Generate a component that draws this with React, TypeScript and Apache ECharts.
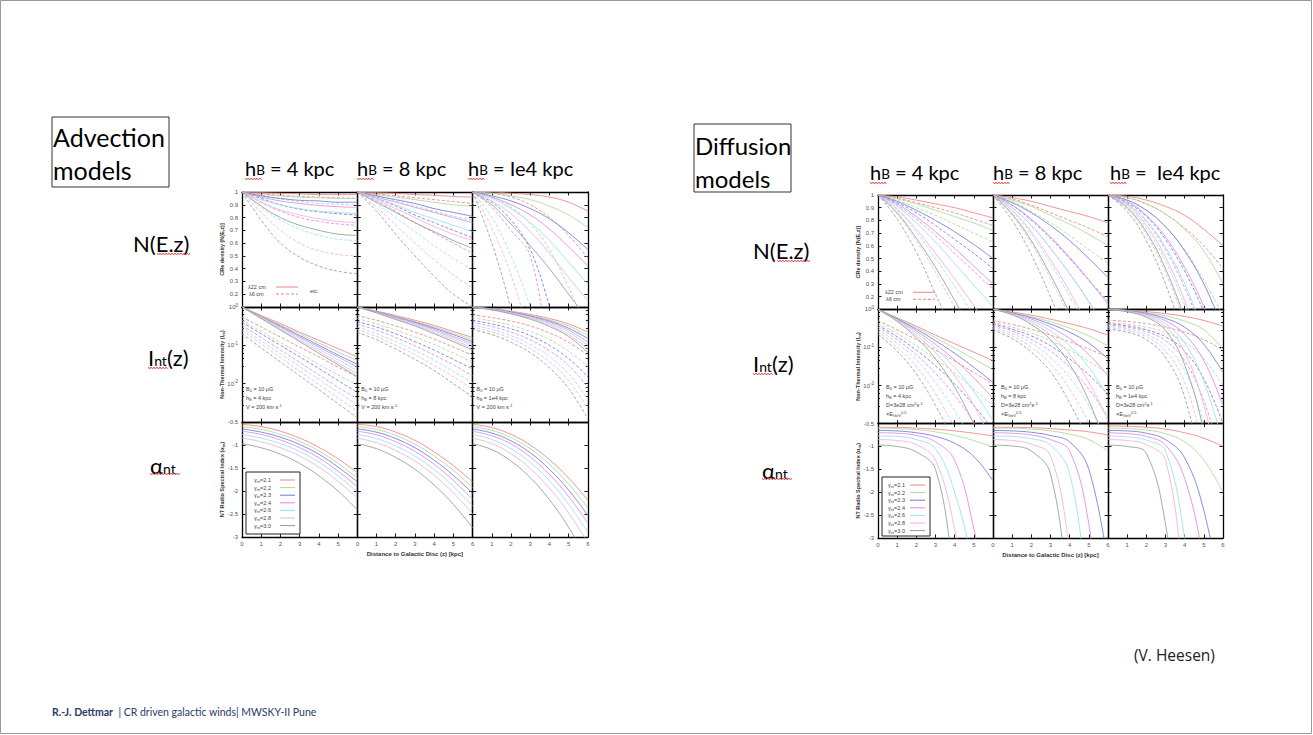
import React, { useEffect, useRef } from 'react';
import * as echarts from 'echarts';

// ---------- data ----------
const Z = [0, 1, 2, 3, 4, 5, 6];
const GAMMAS = ['2.1', '2.2', '2.3', '2.4', '2.6', '2.8', '3.0'];
const X_TICKS = [0, 1, 2, 3, 4, 5, 6];
const COL_HEADERS = ['4', '8', '1e4'];

// Advection, N(E,z)
const advN4Solid = [
  [1, 0.995, 0.99, 0.985, 0.98, 0.98, 0.98],
  [1, 0.98, 0.97, 0.96, 0.955, 0.95, 0.95],
  [1, 0.97, 0.95, 0.935, 0.93, 0.92, 0.92],
  [1, 0.96, 0.93, 0.91, 0.895, 0.885, 0.88],
  [1, 0.94, 0.9, 0.87, 0.85, 0.84, 0.83],
  [1, 0.92, 0.86, 0.82, 0.79, 0.77, 0.76],
  [1, 0.89, 0.8, 0.74, 0.7, 0.67, 0.66],
];
const advN4Dashed = [
  [1, 0.985, 0.975, 0.965, 0.96, 0.955, 0.95],
  [1, 0.97, 0.945, 0.925, 0.91, 0.905, 0.9],
  [1, 0.95, 0.9, 0.865, 0.845, 0.83, 0.82],
  [1, 0.92, 0.85, 0.8, 0.77, 0.75, 0.74],
  [1, 0.88, 0.78, 0.71, 0.66, 0.63, 0.62],
  [1, 0.84, 0.7, 0.6, 0.54, 0.51, 0.5],
  [1, 0.78, 0.6, 0.49, 0.42, 0.38, 0.36],
];
const advN8Solid = [
  [1, 0.995, 0.99, 0.98, 0.975, 0.965, 0.96],
  [1, 0.98, 0.96, 0.94, 0.92, 0.9, 0.89],
  [1, 0.97, 0.94, 0.91, 0.87, 0.84, 0.81],
  [1, 0.96, 0.92, 0.88, 0.84, 0.8, 0.76],
  [1, 0.95, 0.9, 0.84, 0.79, 0.74, 0.69],
  [1, 0.94, 0.87, 0.8, 0.73, 0.67, 0.62],
  [1, 0.92, 0.84, 0.76, 0.69, 0.62, 0.56],
];
const advN8Dashed = [
  [1, 0.985, 0.97, 0.955, 0.94, 0.925, 0.91],
  [1, 0.97, 0.93, 0.89, 0.85, 0.81, 0.78],
  [1, 0.95, 0.89, 0.82, 0.76, 0.7, 0.64],
  [1, 0.93, 0.85, 0.76, 0.68, 0.6, 0.52],
  [1, 0.91, 0.8, 0.69, 0.58, 0.48, 0.39],
  [1, 0.88, 0.74, 0.6, 0.47, 0.35, 0.25],
  [1, 0.85, 0.67, 0.5, 0.34, 0.2, 0.1],
];
const advN1e4Solid = [
  [1, 1, 0.99, 0.98, 0.96, 0.92, 0.85],
  [1, 0.99, 0.97, 0.94, 0.89, 0.82, 0.72],
  [1, 0.97, 0.93, 0.87, 0.79, 0.68, 0.55],
  [1, 0.96, 0.9, 0.82, 0.71, 0.57, 0.42],
  [1, 0.95, 0.87, 0.76, 0.62, 0.45, 0.28],
  [1, 0.93, 0.83, 0.69, 0.52, 0.33, 0.15],
  [1, 0.9, 0.75, 0.58, 0.4, 0.2, 0.0],
];
const advN1e4Dashed = [
  [1, 0.99, 0.96, 0.9, 0.8, 0.66, 0.48],
  [1, 0.96, 0.88, 0.75, 0.55, 0.25, -0.1],
  [1, 0.92, 0.78, 0.55, 0.1, -0.5, -1],
  [1, 0.88, 0.7, 0.5, -0.3, -1, -1.5],
  [1, 0.8, 0.5, 0.1, -0.4, -0.9, -1.4],
  [1, 0.72, 0.35, -0.15, -0.7, -1.2, -1.7],
  [1, 0.6, 0.08, -0.6, -1.2, -1.8, -2.4],
];

// Advection, I_nt(z)
const advI4Solid = [
  [1, 0.6, 0.37, 0.22, 0.135, 0.082, 0.05],
  [1, 0.58, 0.34, 0.2, 0.115, 0.067, 0.04],
  [1, 0.56, 0.32, 0.18, 0.1, 0.056, 0.032],
  [1, 0.55, 0.3, 0.165, 0.09, 0.05, 0.027],
  [1, 0.53, 0.28, 0.15, 0.08, 0.042, 0.022],
  [1, 0.51, 0.26, 0.135, 0.07, 0.035, 0.018],
  [1, 0.5, 0.25, 0.125, 0.062, 0.031, 0.015],
];
const advI4Dashed = [
  [0.55, 0.3, 0.165, 0.09, 0.05, 0.027, 0.015],
  [0.45, 0.23, 0.12, 0.062, 0.032, 0.017, 0.009],
  [0.4, 0.2, 0.1, 0.05, 0.025, 0.012, 0.006],
  [0.33, 0.16, 0.075, 0.036, 0.017, 0.008, 0.004],
  [0.28, 0.13, 0.06, 0.028, 0.013, 0.006, 0.0028],
  [0.24, 0.11, 0.048, 0.021, 0.0095, 0.0042, 0.0019],
  [0.2, 0.085, 0.037, 0.016, 0.007, 0.003, 0.0013],
];
const advI8Solid = [
  [1, 0.78, 0.6, 0.45, 0.33, 0.23, 0.16],
  [1, 0.76, 0.57, 0.42, 0.3, 0.21, 0.14],
  [1, 0.75, 0.55, 0.4, 0.28, 0.19, 0.125],
  [1, 0.74, 0.53, 0.38, 0.26, 0.17, 0.11],
  [1, 0.72, 0.51, 0.36, 0.24, 0.155, 0.098],
  [1, 0.71, 0.49, 0.34, 0.22, 0.14, 0.085],
  [1, 0.7, 0.47, 0.32, 0.2, 0.125, 0.075],
];
const advI8Dashed = [
  [0.6, 0.45, 0.32, 0.22, 0.145, 0.09, 0.055],
  [0.5, 0.36, 0.25, 0.165, 0.105, 0.063, 0.036],
  [0.42, 0.3, 0.2, 0.125, 0.075, 0.043, 0.024],
  [0.36, 0.25, 0.16, 0.097, 0.056, 0.031, 0.016],
  [0.3, 0.2, 0.125, 0.074, 0.041, 0.021, 0.011],
  [0.26, 0.17, 0.1, 0.057, 0.03, 0.015, 0.0072],
  [0.22, 0.14, 0.08, 0.043, 0.022, 0.01, 0.0045],
];
const advI1e4Solid = [
  [1, 0.9, 0.78, 0.64, 0.5, 0.36, 0.22],
  [1, 0.89, 0.76, 0.61, 0.46, 0.32, 0.18],
  [1, 0.88, 0.74, 0.58, 0.43, 0.28, 0.15],
  [1, 0.87, 0.72, 0.56, 0.4, 0.25, 0.12],
  [1, 0.86, 0.7, 0.53, 0.37, 0.22, 0.1],
  [1, 0.85, 0.68, 0.51, 0.34, 0.19, 0.08],
  [1, 0.84, 0.66, 0.48, 0.31, 0.17, 0.065],
];
const advI1e4Dashed = [
  [0.62, 0.53, 0.43, 0.32, 0.21, 0.12, 0.055],
  [0.52, 0.43, 0.33, 0.23, 0.14, 0.07, 0.028],
  [0.45, 0.36, 0.27, 0.18, 0.1, 0.045, 0.015],
  [0.4, 0.31, 0.22, 0.14, 0.072, 0.03, 0.008],
  [0.34, 0.26, 0.18, 0.105, 0.051, 0.018, 0.004],
  [0.3, 0.22, 0.15, 0.083, 0.037, 0.012, 0.0022],
  [0.26, 0.19, 0.12, 0.064, 0.026, 0.0075, 0.0012],
];

// Advection, alpha_nt
const advA4 = [
  [-0.55, -0.6, -0.7, -0.85, -1.05, -1.3, -1.6],
  [-0.6, -0.66, -0.77, -0.92, -1.13, -1.4, -1.72],
  [-0.65, -0.72, -0.83, -0.99, -1.2, -1.48, -1.8],
  [-0.7, -0.77, -0.89, -1.06, -1.28, -1.57, -1.91],
  [-0.77, -0.85, -0.97, -1.14, -1.37, -1.67, -2.02],
  [-0.85, -0.93, -1.06, -1.24, -1.48, -1.79, -2.15],
  [-0.97, -1.06, -1.2, -1.4, -1.67, -2.0, -2.41],
];
const advA8 = [
  [-0.55, -0.6, -0.72, -0.9, -1.15, -1.45, -1.8],
  [-0.6, -0.66, -0.79, -0.98, -1.24, -1.55, -1.93],
  [-0.65, -0.72, -0.86, -1.06, -1.33, -1.66, -2.05],
  [-0.7, -0.78, -0.93, -1.14, -1.42, -1.77, -2.18],
  [-0.77, -0.86, -1.02, -1.24, -1.53, -1.9, -2.33],
  [-0.85, -0.95, -1.12, -1.35, -1.66, -2.04, -2.5],
  [-0.97, -1.08, -1.27, -1.53, -1.87, -2.29, -2.8],
];
const advA1e4 = [
  [-0.55, -0.62, -0.77, -1.0, -1.32, -1.72, -2.2],
  [-0.6, -0.68, -0.84, -1.08, -1.42, -1.85, -2.37],
  [-0.65, -0.74, -0.91, -1.17, -1.53, -1.98, -2.53],
  [-0.7, -0.8, -0.98, -1.26, -1.64, -2.12, -2.7],
  [-0.77, -0.88, -1.08, -1.38, -1.78, -2.29, -2.9],
  [-0.85, -0.97, -1.19, -1.51, -1.94, -2.48, -3.12],
  [-0.97, -1.1, -1.35, -1.71, -2.19, -2.79, -3.5],
];

// Diffusion, N(E,z)
const difN4Solid = [
  [1, 0.985, 0.96, 0.93, 0.9, 0.86, 0.82],
  [1, 0.97, 0.93, 0.88, 0.83, 0.78, 0.72],
  [1, 0.95, 0.88, 0.8, 0.71, 0.61, 0.5],
  [1, 0.93, 0.83, 0.71, 0.58, 0.44, 0.3],
  [1, 0.91, 0.78, 0.63, 0.46, 0.29, 0.12],
  [1, 0.89, 0.73, 0.54, 0.34, 0.13, -0.1],
  [1, 0.86, 0.66, 0.43, 0.17, -0.1, -0.4],
];
const difN4Dashed = [
  [1, 0.975, 0.94, 0.9, 0.86, 0.81, 0.76],
  [1, 0.96, 0.9, 0.84, 0.77, 0.7, 0.63],
  [1, 0.94, 0.86, 0.76, 0.65, 0.54, 0.42],
  [1, 0.92, 0.81, 0.68, 0.54, 0.4, 0.26],
  [1, 0.88, 0.71, 0.5, 0.28, 0.05, -0.2],
  [1, 0.85, 0.64, 0.39, 0.12, -0.15, -0.4],
  [1, 0.81, 0.55, 0.22, -0.1, -0.4, -0.7],
];
const difN8Solid = [
  [1, 0.98, 0.95, 0.91, 0.87, 0.83, 0.78],
  [1, 0.96, 0.91, 0.84, 0.77, 0.69, 0.6],
  [1, 0.94, 0.86, 0.76, 0.64, 0.5, 0.35],
  [1, 0.92, 0.81, 0.67, 0.51, 0.33, 0.14],
  [1, 0.9, 0.76, 0.58, 0.38, 0.16, -0.08],
  [1, 0.88, 0.71, 0.49, 0.24, -0.04, -0.3],
  [1, 0.85, 0.64, 0.37, 0.07, -0.25, -0.6],
];
const difN8Dashed = [
  [1, 0.97, 0.92, 0.86, 0.8, 0.74, 0.67],
  [1, 0.95, 0.87, 0.78, 0.68, 0.57, 0.46],
  [1, 0.92, 0.8, 0.66, 0.5, 0.33, 0.16],
  [1, 0.9, 0.76, 0.58, 0.38, 0.16, -0.08],
  [1, 0.87, 0.69, 0.46, 0.2, -0.08, -0.4],
  [1, 0.84, 0.62, 0.34, 0.04, -0.3, -0.6],
  [1, 0.8, 0.53, 0.2, -0.15, -0.5, -0.9],
];
const difN1e4Solid = [
  [1, 0.99, 0.96, 0.91, 0.84, 0.73, 0.6],
  [1, 0.98, 0.93, 0.85, 0.73, 0.56, 0.3],
  [1, 0.96, 0.88, 0.75, 0.56, 0.3, -0.05],
  [1, 0.95, 0.84, 0.67, 0.43, 0.12, -0.3],
  [1, 0.93, 0.8, 0.59, 0.3, -0.08, -0.5],
  [1, 0.92, 0.76, 0.51, 0.17, -0.25, -0.7],
  [1, 0.9, 0.71, 0.42, 0.03, -0.45, -0.9],
];
const difN1e4Dashed = [
  [1, 0.98, 0.93, 0.85, 0.74, 0.6, 0.42],
  [1, 0.96, 0.88, 0.75, 0.57, 0.33, 0.05],
  [1, 0.94, 0.83, 0.65, 0.4, 0.08, -0.3],
  [1, 0.93, 0.79, 0.57, 0.27, -0.1, -0.5],
  [1, 0.91, 0.74, 0.48, 0.13, -0.3, -0.7],
  [1, 0.89, 0.69, 0.39, 0.0, -0.45, -0.9],
  [1, 0.87, 0.64, 0.3, -0.14, -0.6, -1.1],
];

// Diffusion, I_nt(z)
const difI4Solid = [
  [1, 0.6, 0.36, 0.21, 0.125, 0.075, 0.045],
  [1, 0.58, 0.33, 0.18, 0.095, 0.05, 0.026],
  [1, 0.56, 0.3, 0.15, 0.07, 0.03, 0.012],
  [1, 0.54, 0.27, 0.12, 0.047, 0.016, 0.0045],
  [1, 0.52, 0.24, 0.095, 0.03, 0.007, 0.0012],
  [1, 0.5, 0.21, 0.072, 0.018, 0.003, 0.0003],
  [1, 0.48, 0.18, 0.05, 0.009, 0.001, 0.0001],
];
const difI4Dashed = [
  [0.5, 0.29, 0.16, 0.085, 0.044, 0.022, 0.011],
  [0.42, 0.23, 0.11, 0.05, 0.021, 0.008, 0.003],
  [0.38, 0.19, 0.085, 0.033, 0.011, 0.003, 0.0007],
  [0.34, 0.16, 0.064, 0.021, 0.0055, 0.0011, 0.0002],
  [0.3, 0.13, 0.047, 0.012, 0.0022, 0.0003, 0.00004],
  [0.26, 0.1, 0.032, 0.006, 0.0008, 0.0001, 0.00001],
  [0.22, 0.08, 0.02, 0.003, 0.0003, 0.00002, 0.000001],
];
const difI8Solid = [
  [1, 0.85, 0.7, 0.55, 0.42, 0.31, 0.21],
  [1, 0.82, 0.64, 0.47, 0.32, 0.2, 0.11],
  [1, 0.8, 0.6, 0.41, 0.25, 0.13, 0.05],
  [1, 0.78, 0.55, 0.34, 0.17, 0.065, 0.018],
  [1, 0.76, 0.5, 0.27, 0.11, 0.03, 0.005],
  [1, 0.74, 0.45, 0.21, 0.066, 0.012, 0.0012],
  [1, 0.72, 0.4, 0.16, 0.036, 0.004, 0.0002],
];
const difI8Dashed = [
  [0.5, 0.4, 0.3, 0.21, 0.14, 0.09, 0.055],
  [0.45, 0.34, 0.24, 0.15, 0.085, 0.043, 0.02],
  [0.42, 0.3, 0.2, 0.11, 0.05, 0.019, 0.006],
  [0.38, 0.27, 0.16, 0.08, 0.03, 0.008, 0.0015],
  [0.35, 0.23, 0.13, 0.055, 0.016, 0.003, 0.0003],
  [0.32, 0.2, 0.1, 0.037, 0.008, 0.001, 0.00006],
  [0.29, 0.17, 0.075, 0.023, 0.0035, 0.0003, 0.00001],
];
const difI1e4Solid = [
  [1, 0.95, 0.87, 0.77, 0.65, 0.51, 0.36],
  [1, 0.93, 0.82, 0.67, 0.49, 0.29, 0.09],
  [1, 0.92, 0.78, 0.58, 0.34, 0.12, 0.022],
  [1, 0.9, 0.74, 0.5, 0.22, 0.045, 0.003],
  [1, 0.89, 0.7, 0.42, 0.13, 0.013, 0.0003],
  [1, 0.88, 0.66, 0.35, 0.075, 0.003, 0.00002],
  [1, 0.86, 0.62, 0.28, 0.035, 0.0006, 0.000001],
];
const difI1e4Dashed = [
  [0.52, 0.48, 0.42, 0.34, 0.25, 0.16, 0.085],
  [0.45, 0.41, 0.34, 0.25, 0.14, 0.05, 0.01],
  [0.42, 0.37, 0.29, 0.19, 0.08, 0.015, 0.001],
  [0.39, 0.34, 0.26, 0.15, 0.045, 0.004, 0.0001],
  [0.36, 0.31, 0.22, 0.11, 0.025, 0.001, 0.00001],
  [0.33, 0.28, 0.19, 0.08, 0.012, 0.0002, 0.000001],
  [0.3, 0.25, 0.16, 0.055, 0.005, 0.00003, 0.0000001],
];

// Diffusion, alpha_nt
const difA4 = [
  [-0.58, -0.58, -0.6, -0.62, -0.66, -0.71, -0.77],
  [-0.6, -0.61, -0.63, -0.68, -0.76, -0.87, -1.02],
  [-0.65, -0.66, -0.7, -0.78, -0.93, -1.22, -1.75],
  [-0.7, -0.71, -0.76, -0.9, -1.3, -2.8, -5],
  [-0.77, -0.78, -0.85, -1.05, -2.0, -3.7, -6],
  [-0.85, -0.87, -0.96, -1.3, -2.8, -5, -7],
  [-0.97, -1.0, -1.12, -1.5, -3.8, -6, -8],
];
const difA8 = [
  [-0.58, -0.58, -0.59, -0.61, -0.64, -0.68, -0.75],
  [-0.6, -0.6, -0.62, -0.66, -0.73, -0.85, -1.1],
  [-0.65, -0.66, -0.69, -0.76, -0.9, -1.5, -3.6],
  [-0.7, -0.71, -0.75, -0.85, -1.1, -2.7, -6],
  [-0.77, -0.78, -0.83, -0.97, -1.6, -4.4, -7],
  [-0.85, -0.87, -0.95, -1.2, -3.2, -6, -8],
  [-0.97, -0.99, -1.1, -1.6, -4.5, -8, -10],
];
const difA1e4 = [
  [-0.55, -0.56, -0.58, -0.62, -0.7, -0.82, -1.0],
  [-0.6, -0.61, -0.64, -0.72, -0.9, -1.3, -2.0],
  [-0.65, -0.66, -0.71, -0.85, -1.25, -2.4, -4.5],
  [-0.7, -0.72, -0.78, -0.97, -1.7, -3.5, -6],
  [-0.77, -0.79, -0.86, -1.1, -3.0, -6, -9],
  [-0.85, -0.87, -0.96, -1.3, -4.2, -8, -10],
  [-0.97, -1.0, -1.15, -2.7, -6, -9, -12],
];

// ---------- styling ----------
const COLORS = ['#ef8383', '#a8dc98', '#7676e0', '#e088e6', '#98e2ea', '#f2b0da', '#8fa08f'];
const FONT = 'Lato, "Open Sans", sans-serif';
const SMALL_FONT = '"Liberation Sans", Arial, sans-serif';

const LEFT_BLOCK = { x: 242, y: 192, w: 115.3, h: 115 };
const RIGHT_BLOCK = { x: 878, y: 195, w: 115, h: 114.3 };

type Panel = { block: 0 | 1; row: number; col: number; solid: number[][]; dashed?: number[][] };

const PANELS: Panel[] = [
  { block: 0, row: 0, col: 0, solid: advN4Solid, dashed: advN4Dashed },
  { block: 0, row: 0, col: 1, solid: advN8Solid, dashed: advN8Dashed },
  { block: 0, row: 0, col: 2, solid: advN1e4Solid, dashed: advN1e4Dashed },
  { block: 0, row: 1, col: 0, solid: advI4Solid, dashed: advI4Dashed },
  { block: 0, row: 1, col: 1, solid: advI8Solid, dashed: advI8Dashed },
  { block: 0, row: 1, col: 2, solid: advI1e4Solid, dashed: advI1e4Dashed },
  { block: 0, row: 2, col: 0, solid: advA4 },
  { block: 0, row: 2, col: 1, solid: advA8 },
  { block: 0, row: 2, col: 2, solid: advA1e4 },
  { block: 1, row: 0, col: 0, solid: difN4Solid, dashed: difN4Dashed },
  { block: 1, row: 0, col: 1, solid: difN8Solid, dashed: difN8Dashed },
  { block: 1, row: 0, col: 2, solid: difN1e4Solid, dashed: difN1e4Dashed },
  { block: 1, row: 1, col: 0, solid: difI4Solid, dashed: difI4Dashed },
  { block: 1, row: 1, col: 1, solid: difI8Solid, dashed: difI8Dashed },
  { block: 1, row: 1, col: 2, solid: difI1e4Solid, dashed: difI1e4Dashed },
  { block: 1, row: 2, col: 0, solid: difA4 },
  { block: 1, row: 2, col: 1, solid: difA8 },
  { block: 1, row: 2, col: 2, solid: difA1e4 },
];

function yAxisBase(row: number): any {
  if (row === 0) return { type: 'value', min: 0.1, max: 1, interval: 0.1 };
  if (row === 1) return { type: 'log', logBase: 10, min: 0.001, max: 1 };
  return { type: 'value', min: -3, max: -0.5, interval: 0.5 };
}

function yLabelFormatter(row: number) {
  return (v: number) => {
    if (row === 0) {
      if (Math.abs(v - 0.1) < 1e-6) return '';
      return String(Math.round(v * 10) / 10);
    }
    if (row === 1) {
      const e = Math.round(Math.log10(v));
      if (e <= -3) return '';
      return `10{e|${e}}`;
    }
    return String(Math.round(v * 10) / 10);
  };
}

function wavy(x0: number, x1: number, y: number) {
  const pts: number[][] = [];
  let up = true;
  for (let x = x0; x <= x1; x += 1.5) {
    pts.push([x, up ? y - 1 : y + 1]);
    up = !up;
  }
  return { type: 'polyline', silent: true, shape: { points: pts }, style: { stroke: '#e03030', lineWidth: 0.8, fill: 'none' } };
}

function txt(x: number, y: number, text: string, opts: any = {}) {
  return {
    type: 'text',
    x,
    y,
    silent: true,
    rotation: opts.rotation || 0,
    style: {
      text,
      fill: opts.color || '#000',
      fontFamily: opts.fontFamily || FONT,
      fontSize: opts.fontSize || 10,
      fontWeight: opts.fontWeight || 'normal',
      align: opts.align || 'left',
      verticalAlign: opts.verticalAlign || 'middle',
      rich: opts.rich,
    },
  };
}

function buildOption() {
  const grid: any[] = [];
  const xAxis: any[] = [];
  const yAxis: any[] = [];
  const series: any[] = [];

  const lineStyle = { color: '#000', width: 1.3 };
  const tickStyle = { color: '#000', width: 0.9 };

  PANELS.forEach((p, i) => {
    const B = p.block === 0 ? LEFT_BLOCK : RIGHT_BLOCK;
    grid.push({ left: B.x + p.col * B.w, top: B.y + p.row * B.h, width: B.w, height: B.h, containLabel: false });

    const xb = {
      type: 'value', min: 0, max: 6, interval: 1, gridIndex: i,
      axisLine: { show: true, onZero: false, lineStyle },
      axisTick: { show: true, inside: true, length: 3.5, lineStyle: tickStyle },
      splitLine: { show: false },
    };
    xAxis.push({
      ...xb, position: 'bottom',
      axisLabel: {
        show: p.row === 2, fontSize: 6, color: '#555', margin: 4, fontFamily: SMALL_FONT,
        formatter: (v: number) => ((p.col === 0 && v === 6) || (p.col === 2 && v === 0) ? '' : String(X_TICKS[v] ?? v)),
      },
    });
    xAxis.push({ ...xb, position: 'top', axisLabel: { show: false } });

    const yb = {
      ...yAxisBase(p.row), gridIndex: i,
      axisLine: { show: true, onZero: false, lineStyle },
      axisTick: { show: true, inside: true, length: 3.5, lineStyle: tickStyle },
      minorTick: p.row === 1 ? { show: true, splitNumber: 5, length: 2, lineStyle: tickStyle } : { show: false },
      splitLine: { show: false },
      minorSplitLine: { show: false },
    };
    yAxis.push({
      ...yb, position: 'left',
      axisLabel: {
        show: p.col === 0, fontSize: 6, color: '#555', margin: 4, fontFamily: SMALL_FONT,
        formatter: yLabelFormatter(p.row),
        rich: { e: { fontSize: 4.5, color: '#555', verticalAlign: 'top', padding: [0, 0, 4, 0] } },
      },
    });
    yAxis.push({ ...yb, position: 'right', axisLabel: { show: false } });

    const add = (vals: number[][], dashed: boolean) => {
      vals.forEach((arr, g) => {
        series.push({
          type: 'line',
          xAxisIndex: 2 * i,
          yAxisIndex: 2 * i,
          data: arr.map((v, k) => [Z[k], v]),
          symbol: 'none',
          smooth: 0.4,
          clip: true,
          silent: true,
          lineStyle: { color: COLORS[g], width: 1, type: dashed ? [3, 2] : 'solid', opacity: 0.85 },
          z: dashed ? 2 : 3,
        });
      });
    };
    if (p.dashed) add(p.dashed, true);
    add(p.solid, false);
  });

  // ---------- graphics ----------
  const g: any[] = [];
  g.push({ type: 'rect', silent: true, shape: { x: 0.5, y: 0.5, width: 1311, height: 733 }, style: { fill: 'none', stroke: '#9a9a9a', lineWidth: 1 } });

  const rowLabelRich = { b: { fontSize: 22, fontFamily: FONT, fill: '#000' }, s: { fontSize: 14, fontFamily: FONT, fill: '#000', padding: [6, 0, 0, 0] } };
  const hRich = { b: { fontSize: 20, fontFamily: FONT, fill: '#000' }, s: { fontSize: 13.5, fontFamily: FONT, fill: '#000', padding: [4, 0, 0, 0] } };

  const blocks = [
    { B: LEFT_BLOCK, box: [52, 117, 117, 70], title: ['Advection', 'models'], titleY: [137, 170], titleSize: 25,
      heads: [245, 357, 468], headY: 168, rowX: [133, 148, 150], rowY: [243, 357, 465], axisTitleX: 222, info: ['V = 200 km s{u|-1}'] },
    { B: RIGHT_BLOCK, box: [694, 124, 97, 68], title: ['Diffusion', 'models'], titleY: [145, 178], titleSize: 24,
      heads: [870, 993, 1110], headY: 172, rowX: [753, 753, 762], rowY: [250, 363, 470], axisTitleX: 858, info: ['D=3e28 cm{u|2}s{u|-1}', '×E{d|GeV}{u|0.5}'] },
  ];

  blocks.forEach((bl, bi) => {
    const [bx, by, bw, bh] = bl.box;
    g.push({ type: 'rect', silent: true, shape: { x: bx, y: by, width: bw, height: bh }, style: { fill: 'none', stroke: '#333', lineWidth: 1 } });
    g.push(txt(bx + 1, bl.titleY[0], bl.title[0], { fontSize: bl.titleSize }));
    g.push(txt(bx + 1, bl.titleY[1], bl.title[1], { fontSize: bl.titleSize }));

    bl.heads.forEach((hx, c) => {
      const val = COL_HEADERS[c] === '1e4' ? (bi === 1 ? ' Ie4' : 'Ie4') : COL_HEADERS[c];
      g.push(txt(hx, bl.headY, `{b|h}{s|B}{b| = ${val} kpc}`, { rich: hRich }));
      g.push(wavy(hx, hx + 17, bl.headY + 11));
    });

    g.push(txt(bl.rowX[0], bl.rowY[0], 'N(E.z)', { fontSize: 22 }));
    g.push(wavy(bl.rowX[0] + 24, bl.rowX[0] + 58, bl.rowY[0] + 11));
    g.push(txt(bl.rowX[1], bl.rowY[1], '{b|I}{s|nt}{b|(z)}', { rich: rowLabelRich }));
    g.push(wavy(bl.rowX[1], bl.rowX[1] + 20, bl.rowY[1] + 11));
    g.push(txt(bl.rowX[2], bl.rowY[2], '{b|α}{s|nt}', { rich: rowLabelRich }));
    g.push(wavy(bl.rowX[2], bl.rowX[2] + 30, bl.rowY[2] + 9));

    const B = bl.B;
    const axisTitles = ['CRe density [N(E,z)]', 'Non-Thermal Intensity (I{d|nt})', 'NT Radio Spectral Index (α{d|nt})'];
    axisTitles.forEach((t, r) => {
      g.push(txt(bl.axisTitleX, B.y + r * B.h + B.h / 2, t, {
        rotation: Math.PI / 2, align: 'center', fontSize: 5.5, fontWeight: 'bold', color: '#333', fontFamily: SMALL_FONT,
        rich: { d: { fontSize: 4, fontWeight: 'bold', fill: '#333', padding: [3, 0, 0, 0] } },
      }));
    });
    g.push(txt(B.x + 1.5 * B.w, B.y + 3 * B.h + 17, 'Distance to Galactic Disc (z) [kpc]', {
      align: 'center', fontSize: 6, fontWeight: 'bold', color: '#333', fontFamily: SMALL_FONT,
    }));

    // legend in N panel (col 0)
    const lx = B.x + (bi === 0 ? 6 : 7);
    const ly = B.y + B.h - (bi === 0 ? 20 : 17);
    const smallRich = { d: { fontSize: 4, fill: '#444', padding: [3, 0, 0, 0] }, u: { fontSize: 4, fill: '#444', padding: [0, 0, 4, 0] } };
    g.push(txt(lx, ly, 'λ22 cm', { fontSize: 5.5, color: '#444', fontFamily: SMALL_FONT }));
    g.push(txt(lx + 1, ly + 7, 'λ6 cm', { fontSize: 5.5, color: '#444', fontFamily: SMALL_FONT }));
    g.push({ type: 'line', silent: true, shape: { x1: lx + 28, y1: ly, x2: lx + 50, y2: ly }, style: { stroke: COLORS[0], lineWidth: 1 } });
    g.push({ type: 'line', silent: true, shape: { x1: lx + 28, y1: ly + 7, x2: lx + 50, y2: ly + 7 }, style: { stroke: COLORS[0], lineWidth: 1, lineDash: [3, 2] } });
    if (bi === 0) g.push(txt(lx + 62, ly + 4, 'etc.', { fontSize: 5.5, color: '#444', fontFamily: SMALL_FONT }));

    // info text in I panels
    const hbTxt = ['4', '8', '1e4'];
    for (let c = 0; c < 3; c++) {
      const ix = B.x + c * B.w + (bi === 0 ? 4 : 8);
      const iy = B.y + B.h + (bi === 0 ? 82 : 78);
      const lines = [`B{d|0} = 10 μG`, `h{d|B} = ${hbTxt[c]} kpc`, ...bl.info];
      lines.forEach((t, k) => {
        g.push(txt(ix, iy + k * 9, t, { fontSize: 5.5, color: '#444', fontFamily: SMALL_FONT, rich: smallRich }));
      });
    }

    // legend box in alpha panel col 0
    const ax = bi === 0 ? 246 : 882;
    const ay = bi === 0 ? 472 : 477;
    const aw = bi === 0 ? 54 : 48;
    const ah = bi === 0 ? 62 : 59;
    g.push({ type: 'rect', silent: true, shape: { x: ax, y: ay, width: aw, height: ah }, style: { fill: '#fff', stroke: '#222', lineWidth: 1 }, z: 10 });
    GAMMAS.forEach((gm, k) => {
      const yy = ay + 8 + k * 7.6;
      g.push({ ...txt(ax + (bi === 0 ? 8 : 6), yy, `γ{d|nt}=${gm}`, { fontSize: 5.5, color: '#444', fontFamily: SMALL_FONT, rich: smallRich }), z: 11 });
      g.push({ type: 'line', silent: true, z: 11, shape: { x1: ax + aw - 20, y1: yy, x2: ax + aw - 5, y2: yy }, style: { stroke: COLORS[k], lineWidth: 1 } });
    });
  });

  g.push(txt(1134, 655, '(V. Heesen)', { fontSize: 15.5, fontFamily: '"Open Sans", sans-serif', color: '#222' }));
  g.push(txt(52, 712, '{b|R.-J. Dettmar}{n|  | CR driven galactic winds| MWSKY-II Pune}', {
    rich: {
      b: { fontSize: 10.5, fontWeight: 'bold', fill: '#2b3a67', fontFamily: FONT },
      n: { fontSize: 10.5, fill: '#2b3a67', fontFamily: FONT },
    },
  }));

  return {
    animation: false,
    backgroundColor: '#fff',
    grid,
    xAxis,
    yAxis,
    series,
    graphic: g,
  };
}

export default function App() {
  const ref = useRef<HTMLDivElement>(null);
  useEffect(() => {
    document.body.style.margin = '0';
    if (!ref.current) return;
    const chart = echarts.init(ref.current, undefined, { renderer: 'svg' });
    chart.setOption(buildOption() as any);
    return () => chart.dispose();
  }, []);
  return <div ref={ref} style={{ width: 1313, height: 735 }} />;
}
